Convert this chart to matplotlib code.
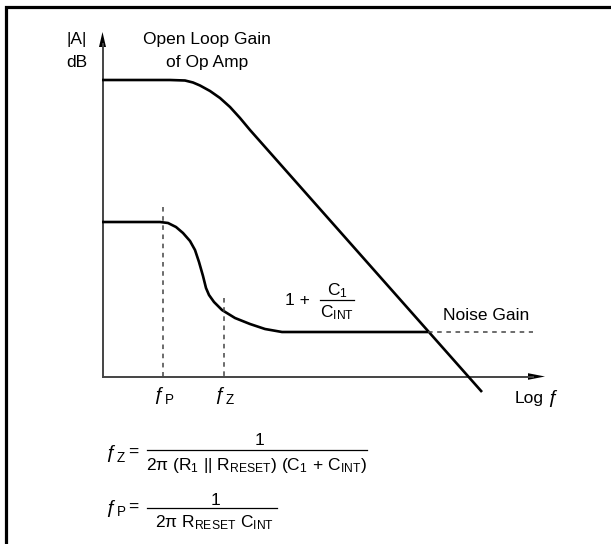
import matplotlib
matplotlib.use("Agg")
import matplotlib.pyplot as plt

plt.rcParams["font.family"] = ["Liberation Sans", "DejaVu Sans"]
plt.rcParams["mathtext.fontset"] = "custom"
plt.rcParams["mathtext.rm"] = "Liberation Sans"
plt.rcParams["mathtext.it"] = "Liberation Sans:italic"
plt.rcParams["mathtext.default"] = "rm"

# diagram coordinates (pixels of the 611x544 picture, y down)
open_loop_x = [102, 170, 185, 193, 200, 210, 220, 230, 240, 250, 482]
open_loop_y = [80, 80, 80.5, 82.5, 85.5, 91, 98, 107, 118, 130, 392]

noise_x = [102, 160, 168, 176, 183, 190, 195, 199, 203, 206, 209, 214, 222,
           235, 250, 265, 282, 428]
noise_y = [222, 222, 223, 227, 233, 241, 250, 262, 276, 288, 295, 302, 310,
           318, 324, 329, 332, 332]
noise_ext_x = [428, 533]

fp_x, fp_top = 163, 207
fz_x, fz_top = 224, 298

origin = (102.5, 376.5)
x_end = 545
y_end = 32

INK = "black"
AXIS = "#444444"
DASH = "#444444"
FS = 12.5


def f_label(ax, x, y, sub, size=FS):
    # italic f with a lowered subscript, right edge of the f at x
    ax.text(x + 1, y - 2, "\u0192", fontsize=size * 1.12, ha="right",
            va="baseline", color=INK)
    ax.text(x + 1.5, y + 1.5, sub, fontsize=size * 0.78, ha="left",
            va="baseline", color=INK)


fig = plt.figure(figsize=(6.11, 5.44), dpi=100)
ax = fig.add_axes([0, 0, 1, 1])
ax.set_xlim(0, 611)
ax.set_ylim(544, 0)
ax.axis("off")

# frame (left and top only, the rest is cut off)
ax.plot([6, 6, 611], [544, 7, 7], color=INK, lw=2.3, solid_joinstyle="miter")

# axes with arrows
ox, oy = origin
ax.plot([ox, x_end - 12], [oy, oy], color=AXIS, lw=1.4)
ax.plot([ox, ox], [oy, y_end + 12], color=AXIS, lw=1.4)
ax.fill([x_end - 17, x_end, x_end - 17], [oy - 3.3, oy, oy + 3.3],
        color=INK, lw=0)
ax.fill([ox - 3.5, ox, ox + 3.5], [y_end + 15, y_end, y_end + 15],
        color=INK, lw=0)

# curves
ax.plot(open_loop_x, open_loop_y, color=INK, lw=1.9,
        solid_capstyle="butt", solid_joinstyle="round")
ax.plot(noise_x, noise_y, color=INK, lw=1.9, solid_capstyle="butt",
        solid_joinstyle="round")
ax.plot(noise_ext_x, [noise_y[-1]] * 2, color=DASH, lw=1.1,
        linestyle=(0, (3, 3)))
ax.plot([fp_x, fp_x], [fp_top, oy], color=DASH, lw=1.1,
        linestyle=(0, (3, 3)))
ax.plot([fz_x, fz_x], [fz_top, oy], color=DASH, lw=1.1,
        linestyle=(0, (3, 3)))

# axis labels
ax.text(77, 44, "|A|", fontsize=FS, ha="center", va="baseline")
ax.text(77, 67, "dB", fontsize=FS, ha="center", va="baseline")
ax.text(207, 44, "Open Loop Gain", fontsize=FS, ha="center", va="baseline")
ax.text(207, 67, "of Op Amp", fontsize=FS, ha="center", va="baseline")
ax.text(515, 403, "Log", fontsize=FS, ha="left", va="baseline")
ax.text(558, 403, "\u0192", fontsize=FS * 1.12, ha="right", va="baseline")
f_label(ax, 163, 402, "P")
f_label(ax, 224, 402, "Z")

# 1 + C1/CINT
ax.text(285, 305, "1 +", fontsize=FS, ha="left", va="baseline")
ax.text(337, 295, r"$\mathrm{C_1}$", fontsize=FS, ha="center", va="baseline")
ax.plot([320, 354], [299.5, 299.5], color=INK, lw=0.9)
ax.text(337, 317, r"$\mathrm{C_{INT}}$", fontsize=FS, ha="center",
        va="baseline")
ax.text(443, 320, "Noise Gain", fontsize=FS, ha="left", va="baseline")

# formulas
f_label(ax, 115, 460, "Z")
ax.text(128, 457, "=", fontsize=FS, ha="left", va="baseline")
ax.text(260, 445, "1", fontsize=FS, ha="center", va="baseline")
ax.plot([147, 367], [450, 450], color=INK, lw=0.9)
ax.text(257, 470,
        r"$\mathrm{2\pi\ (R_1\ ||\ R_{RESET})\ (C_1\,+\,C_{INT})}$",
        fontsize=FS, ha="center", va="baseline")

f_label(ax, 115, 515, "P")
ax.text(128, 512, "=", fontsize=FS, ha="left", va="baseline")
ax.text(215, 505, "1", fontsize=FS, ha="center", va="baseline")
ax.plot([147, 277], [508, 508], color=INK, lw=0.9)
ax.text(214, 527, r"$\mathrm{2\pi\ R_{RESET}\ C_{INT}}$",
        fontsize=FS, ha="center", va="baseline")

fig.savefig("out.png", dpi=100)
